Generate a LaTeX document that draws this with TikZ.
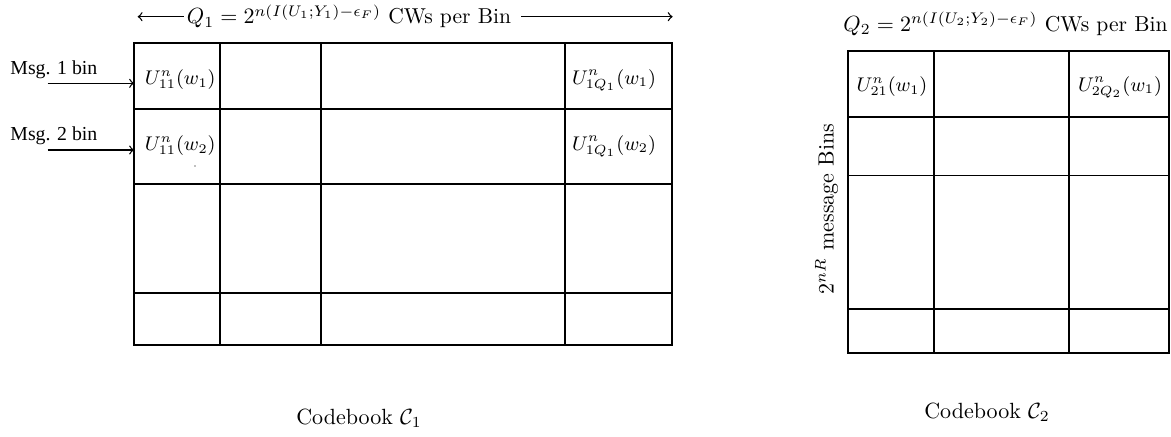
\documentclass[tikz,border=0pt]{standalone}
\usepackage{fontspec}
\newfontfamily\timesfont{Liberation Serif}
\begin{document}
\begin{tikzpicture}[x=0.4545pt,y=-0.4545pt,
  gridline/.style={line width=0.8pt},
  conn/.style={line width=0.6pt,->},
  lbl/.style={inner sep=0pt},
  cell/.style={inner sep=0pt,font=\fontsize{9.2}{11}\selectfont},
  msglbl/.style={inner sep=0pt,anchor=base,font=\timesfont\fontsize{9}{11}\selectfont}]
\useasboundingbox (0,0) rectangle (1171,437);
% ---- Codebook C1 grid ----
\draw[gridline] (134,43) rectangle (672,345);
\foreach \yy in {109,184,293} \draw[gridline] (134,\yy) -- (672,\yy);
\foreach \xx in {220,321,564.7} \draw[gridline] (\xx,43) -- (\xx,345);
% title C1
\node[lbl,anchor=base,font=\fontsize{9.8}{12}\selectfont] (t1) at (349,24) {$Q_1 = 2^{n(I(U_1;Y_1)-\epsilon_F)}$ CWs per Bin};
\coordinate (t1l) at (137.7,16.7);
\coordinate (t1ls) at (183.6,16.7);
\coordinate (t1r) at (672.6,16.7);
\coordinate (t1rs) at (521,16.7);
\draw[conn] (t1ls) -- (t1l);
\draw[conn] (t1rs) -- (t1r);
% cells
\node[cell] (c11) at (180.3,80) {$U^n_{11}(w_1)$};
\node[cell] (c1Q) at (614,80) {$U^n_{1Q_1}(w_1)$};
\node[cell] (c21) at (180.3,146) {$U^n_{11}(w_2)$};
\node[cell] (c2Q) at (614,146) {$U^n_{1Q_1}(w_2)$};
\fill[gray] (195,166) circle (0.35pt);
% message labels
\node[msglbl] (m1) at (53.9,75) {Msg. 1 bin};
\node[msglbl] (m2) at (53.9,140.5) {Msg. 2 bin};
\coordinate (m1s) at (47.7,83.3);
\coordinate (m1e) at (134,83.3);
\coordinate (m2s) at (47.7,150);
\coordinate (m2e) at (134,150);
\draw[conn] (m1s) -- (m1e);
\draw[conn] (m2s) -- (m2e);
\node[lbl] (cb1) at (359,418) {Codebook $\mathcal{C}_1$};
% ---- Codebook C2 grid ----
\draw[gridline] (848,51) rectangle (1169,353);
\foreach \yy in {116.7,175.5,309.3} \draw[gridline] (848,\yy) -- (1169,\yy);
\foreach \xx in {934,1068.7} \draw[gridline] (\xx,51) -- (\xx,353);
\node[lbl,anchor=base,font=\fontsize{9.8}{12}\selectfont] (t2) at (1005.5,31.5) {$Q_2 = 2^{n(I(U_2;Y_2)-\epsilon_F)}$ CWs per Bin};
\node[cell] (d11) at (892,87) {$U^n_{21}(w_1)$};
\node[cell] (d1Q) at (1120,87) {$U^n_{2Q_2}(w_1)$};
\node[lbl,rotate=90] (side) at (826.7,209) {$2^{nR}$ message Bins};
\node[lbl] (cb2) at (987,412) {Codebook $\mathcal{C}_2$};
\end{tikzpicture}
\end{document}
